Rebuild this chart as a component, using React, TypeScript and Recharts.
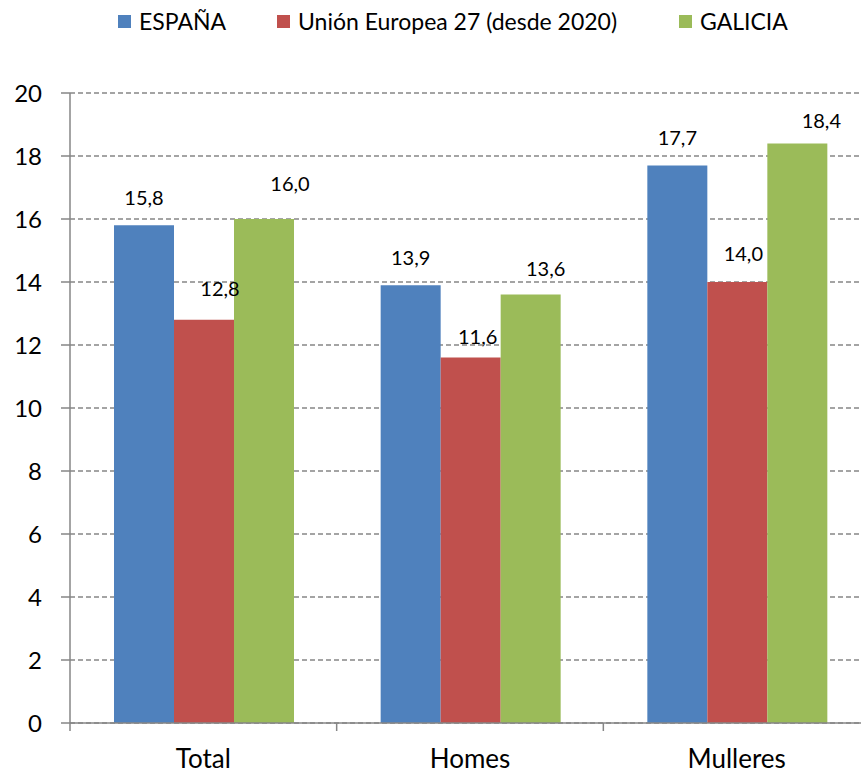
import React from 'react';
import {
  BarChart,
  Bar,
  XAxis,
  YAxis,
  CartesianGrid,
  Legend,
  LabelList,
} from 'recharts';

const categories = ['Total', 'Homes', 'Mulleres'];
const espana = [15.8, 13.9, 17.7];
const ue27 = [12.8, 11.6, 14.0];
const galicia = [16.0, 13.6, 18.4];
const yTicks = [0, 2, 4, 6, 8, 10, 12, 14, 16, 18, 20];

const seriesNames = ['ESPAÑA', 'Unión Europea 27 (desde 2020)', 'GALICIA'];
const colors = ['#4F81BD', '#C0504D', '#9BBB59'];

// label nudges [dx, dy] relative to the bar top centre (Excel labels were dragged by hand)
const labelNudge = [
  [[0, -28], [0, -28], [0, -28]],
  [[16, -32], [7, -22], [6, -29]],
  [[26, -36], [15, -27], [24, -23]],
];
const legendX = [118, 277, 679];

const data = categories.map((name, i) => ({
  name,
  espana: espana[i],
  ue27: ue27[i],
  galicia: galicia[i],
}));

const W = 880;
const H = 775;
const LEGEND_H = 30;
const M = { top: 93 - LEGEND_H, right: 10, left: 0, bottom: 0 };
const Y_W = 70;
const HALF = (W - M.left - M.right - Y_W) / categories.length / 2;
const FONT = 'Lato, "Open Sans", sans-serif';
const AXIS = '#868686';

const fmt = (v: number) => v.toFixed(1).replace('.', ',');

const CatTick = (props: any) => {
  const { x, y, payload, index } = props;
  return (
    <g>
      <line x1={x - HALF} x2={x - HALF} y1={y} y2={y + 8} stroke={AXIS} strokeWidth={1.5} />
      {index === categories.length - 1 && (
        <line x1={x + HALF} x2={x + HALF} y1={y} y2={y + 8} stroke={AXIS} strokeWidth={1.5} />
      )}
      <text x={x} y={y + 45} textAnchor="middle" fontSize={26} fontFamily={FONT} fill="#000">
        {payload.value}
      </text>
    </g>
  );
};

const makeLabel = (s: number) => (props: any) => {
  const { x, y, width, value, index } = props;
  const [dx, dy] = labelNudge[s][index];
  return (
    <text
      x={Number(x) + Number(width) / 2 + dx}
      y={Number(y) + dy}
      textAnchor="middle"
      dominantBaseline="central"
      fontSize={20}
      fontFamily={FONT}
      fill="#000"
    >
      {fmt(Number(value))}
    </text>
  );
};

const LegendContent = () => (
  <div style={{ position: 'relative', height: LEGEND_H, fontFamily: FONT, fontSize: 23, color: '#000' }}>
    {seriesNames.map((n, i) => (
      <div
        key={n}
        style={{ position: 'absolute', left: legendX[i], top: 0, display: 'flex', alignItems: 'center', whiteSpace: 'nowrap' }}
      >
        <span style={{ width: 13, height: 13, background: colors[i], display: 'inline-block', marginRight: 8 }} />
        <span>{n}</span>
      </div>
    ))}
  </div>
);

const keys = ['espana', 'ue27', 'galicia'];

export default function App() {
  return (
    <div style={{ position: 'absolute', left: 0, top: 0, width: W, height: H, background: '#fff' }}>
      <BarChart width={W} height={H} data={data} margin={M} barCategoryGap="16.5%" barGap={0}>
        <CartesianGrid vertical={false} stroke={AXIS} strokeDasharray="5 3" strokeWidth={1.3} />
        <XAxis
          dataKey="name"
          height={52}
          tickLine={false}
          tickSize={0}
          tickMargin={0}
          axisLine={{ stroke: AXIS, strokeWidth: 1.5 }}
          tick={<CatTick />}
          interval={0}
        />
        <YAxis
          width={Y_W}
          domain={[0, 20]}
          ticks={yTicks}
          interval={0}
          tickSize={9}
          tickMargin={19}
          axisLine={{ stroke: AXIS, strokeWidth: 1.5 }}
          tickLine={{ stroke: AXIS, strokeWidth: 1.5 }}
          tick={{ fontSize: 24, fontFamily: FONT, fill: '#000' }}
        />
        <Legend
          verticalAlign="top"
          height={LEGEND_H}
          content={<LegendContent />}
          wrapperStyle={{ position: 'absolute', top: 7, left: 0, width: W }}
        />
        {keys.map((k, s) => (
          <Bar key={k} dataKey={k} name={seriesNames[s]} fill={colors[s]} isAnimationActive={false}>
            <LabelList dataKey={k} content={makeLabel(s)} />
          </Bar>
        ))}
      </BarChart>
    </div>
  );
}
